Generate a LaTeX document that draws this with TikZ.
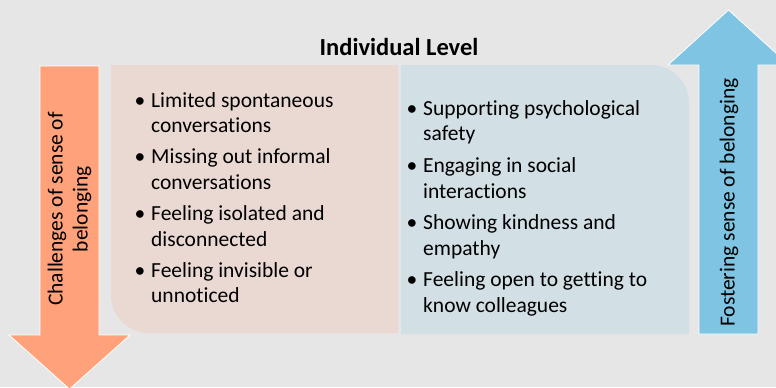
\documentclass[tikz,border=0pt]{standalone}
\usepackage{fontspec}
\setmainfont[Ligatures=NoCommon]{Carlito}
\usepackage{tikz}
\usetikzlibrary{positioning}
\definecolor{belbg}{HTML}{E6E6E6}
\definecolor{belorange}{HTML}{FFA27B}
\definecolor{belpink}{HTML}{EAD9D2}
\definecolor{belblue}{HTML}{D2DFE5}
\definecolor{belsky}{HTML}{7FC4E3}
\def\lsp{25.7} % line spacing inside an item
\tikzset{
  itemtext/.style={anchor=base west, inner sep=0pt, align=left,
    font=\fontsize{21.5bp}{\lsp bp}\selectfont},
  bulletmark/.style={anchor=base, inner sep=0pt, font=\fontsize{21.5bp}{\lsp bp}\selectfont},
  arrowtext/.style={rotate=90, align=center, inner sep=0pt,
    font=\fontsize{21.5bp}{25bp}\selectfont},
  bigarrow/.style={line width=0.8bp, draw=white}
}

\begin{document}
\begin{tikzpicture}[x=1bp,y=1bp]
\fill[belbg] (0,0) rectangle (776,-387);
\useasboundingbox (0,0) rectangle (776,-387);
% the two panels, one round corner each
\fill[belpink] (111,-65) -- (111,-295) arc[start angle=180,end angle=270,radius=38]
   -- (398,-333) -- (398,-65) -- cycle;
\fill[belblue] (401,-65) -- (651,-65) arc[start angle=90,end angle=0,radius=38]
   -- (689,-334) -- (401,-334) -- cycle;
% block arrows down (left) and up (right)
\filldraw[belorange, bigarrow] (40,-66) -- (99,-66) -- (99,-335) -- (130,-335)
   -- (69.5,-389) -- (9,-335) -- (40,-335) -- cycle;
\filldraw[belsky, bigarrow] (699,-334) -- (699,-65) -- (668,-65) -- (728.5,-10)
   -- (789,-65) -- (758,-65) -- (758,-334) -- cycle;
\node[arrowtext] (challenge) at (69.5,-209) {Challenges of sense of\\belonging};
\node[arrowtext] (foster) at (729,-202.5) {Fostering sense of belonging};
% heading
\node[anchor=base, inner sep=0pt, font=\bfseries\fontsize{24.5bp}{28bp}\selectfont]
   (level) at (399,-55) {Individual Level};
% left column (node base is the second line)
\foreach \i/\txt in {%
   0/{Limited spontaneous\\conversations},
   1/{Missing out informal\\conversations},
   2/{Feeling isolated and\\disconnected},
   3/{Feeling invisible or\\unnoticed}}{
   \pgfmathsetmacro\yy{-107-56.7*\i}
   \node[bulletmark] (chb\i) at (140,\yy) {\textbullet};
   \node[itemtext] (ch\i) at (151,\yy-\lsp) {\txt};
}
% right column
\foreach \i/\txt in {%
   0/{Supporting psychological\\safety},
   1/{Engaging in social\\interactions},
   2/{Showing kindness and\\empathy},
   3/{Feeling open to getting to\\know colleagues}}{
   \pgfmathsetmacro\yy{-115-57.3*\i}
   \node[bulletmark] (fob\i) at (412,\yy) {\textbullet};
   \node[itemtext] (fo\i) at (423,\yy-\lsp) {\txt};
}
\end{tikzpicture}
\end{document}
